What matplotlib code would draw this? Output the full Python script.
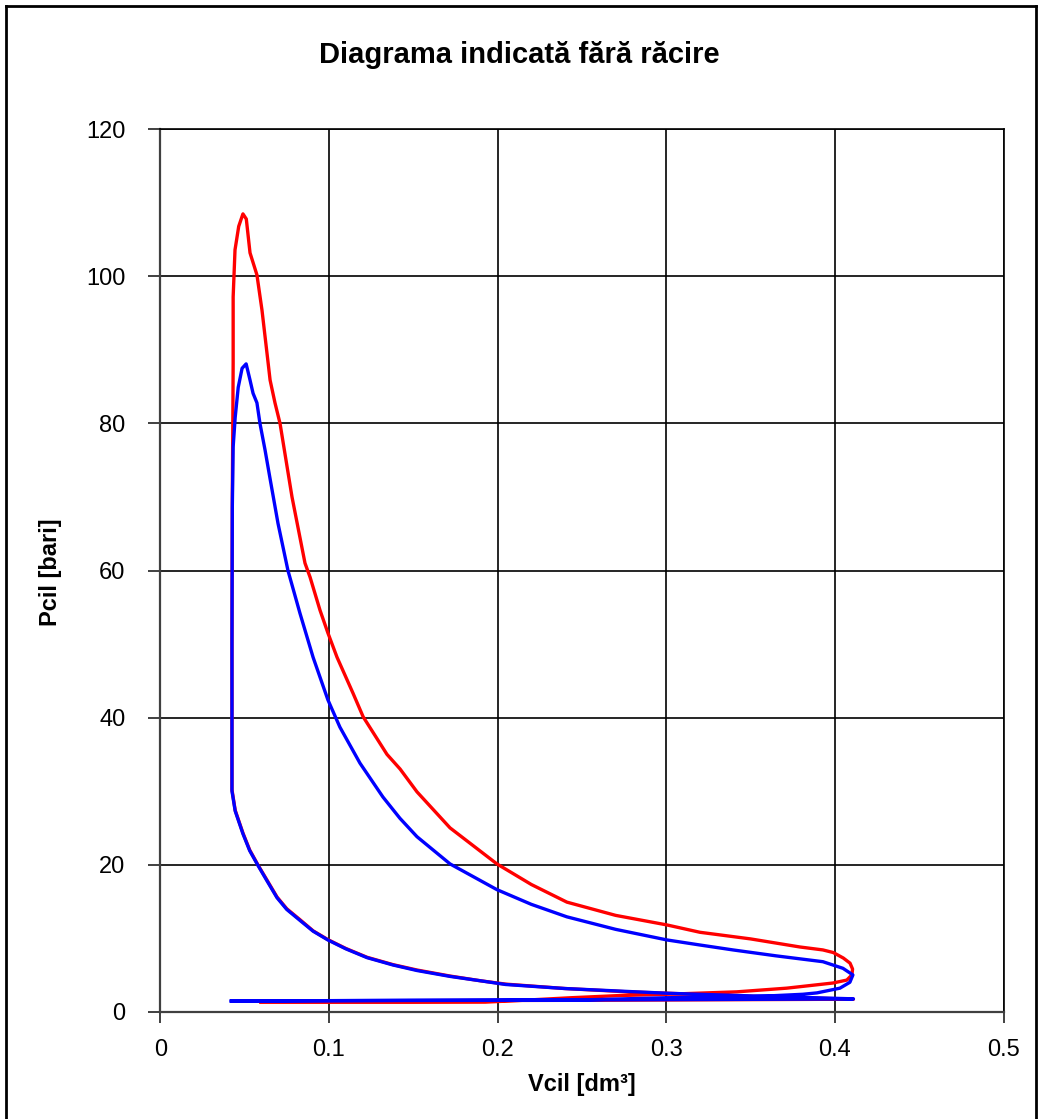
import matplotlib
matplotlib.use('Agg')
import matplotlib.pyplot as plt
from matplotlib.lines import Line2D

plt.rcParams['font.family'] = ['Liberation Sans', 'DejaVu Sans']

# Chart texts
title = 'Diagrama indicată fără răcire'
x_label = 'Vcil [dm³]'
y_label = 'Pcil [bari]'

x_ticks = [0, 0.1, 0.2, 0.3, 0.4, 0.5]
x_tick_labels = ['0', '0.1', '0.2', '0.3', '0.4', '0.5']
y_ticks = [0, 20, 40, 60, 80, 100, 120]
y_tick_labels = ['0', '20', '40', '60', '80', '100', '120']

# Red cycle: intake -> compression -> combustion -> expansion -> blowdown -> exhaust
red_vcil = [0.060, 0.150, 0.250, 0.411,
            0.380, 0.350, 0.3017, 0.2775, 0.2400, 0.2048, 0.1900, 0.1718,
            0.1522, 0.1380, 0.1226, 0.1100, 0.0994, 0.0906, 0.0829, 0.0750,
            0.0692, 0.0630, 0.0579, 0.0530, 0.0490, 0.0444, 0.0425, 0.0425,
            0.0427, 0.0430, 0.0432, 0.0432, 0.0443, 0.0465, 0.0490, 0.0510,
            0.0532, 0.0573, 0.0603, 0.0639, 0.0651, 0.0680, 0.0710, 0.0781,
            0.0858, 0.0888, 0.0947, 0.0994, 0.1048, 0.1143, 0.1203, 0.1344,
            0.1422, 0.1522, 0.1718, 0.1996, 0.2200, 0.2411, 0.2700, 0.3004,
            0.3200, 0.3500, 0.3793, 0.3929, 0.3990, 0.4050, 0.4090, 0.4105,
            0.4101, 0.4071, 0.3988, 0.3714, 0.3418, 0.3003, 0.2726, 0.2436,
            0.2150, 0.1927, 0.1500, 0.1000, 0.0596]
red_pcil = [1.45, 1.5, 1.55, 1.7,
            1.9, 2.1, 2.5, 2.7, 3.15, 3.75, 4.2, 4.85,
            5.67, 6.4, 7.4, 8.6, 9.8, 11.0, 12.5, 14.0,
            15.6, 18.0, 19.96, 22.0, 24.3, 27.4, 30.2, 50.0,
            70.0, 80.0, 88.2, 97.2, 103.6, 106.8, 108.5, 107.8,
            103.2, 100.2, 95.4, 88.3, 85.9, 82.8, 80.0, 70.0,
            61.0, 59.1, 54.6, 51.5, 48.2, 43.3, 40.1, 35.0,
            33.0, 29.9, 25.0, 20.1, 17.3, 14.9, 13.1, 11.8,
            10.8, 9.9, 8.8, 8.4, 8.05, 7.3, 6.6, 5.8,
            5.0, 4.3, 3.9, 3.2, 2.7, 2.37, 2.2, 1.9,
            1.55, 1.3, 1.28, 1.28, 1.28]

# Blue cycle
blue_vcil = [0.0421, 0.150, 0.250, 0.411,
             0.411, 0.380, 0.350, 0.3017, 0.2775, 0.2400, 0.2048, 0.1900,
             0.1718, 0.1522, 0.1380, 0.1226, 0.1100, 0.0994, 0.0906, 0.0829,
             0.0750, 0.0692, 0.0630, 0.0579, 0.0530, 0.0490, 0.0444, 0.0425,
             0.0425, 0.0427, 0.0432, 0.0444, 0.0462, 0.0485, 0.0509, 0.0532,
             0.0550, 0.0573, 0.0591, 0.0621, 0.0650, 0.0698, 0.0757, 0.0828,
             0.0906, 0.0994, 0.1065, 0.1184, 0.1320, 0.1421, 0.1522, 0.1718,
             0.1996, 0.2200, 0.2411, 0.2700, 0.3004, 0.3200, 0.3396, 0.3650,
             0.3929, 0.4048, 0.4107, 0.4089, 0.4030, 0.3894, 0.3810, 0.3513,
             0.3003, 0.2500, 0.2000, 0.1000, 0.0421]
blue_pcil = [1.45, 1.55, 1.6, 1.73,
             1.75, 1.95, 2.15, 2.5, 2.75, 3.15, 3.7, 4.2,
             4.8, 5.6, 6.35, 7.35, 8.55, 9.75, 10.95, 12.4,
             13.9, 15.5, 17.9, 19.9, 21.9, 24.2, 27.3, 30.0,
             50.0, 68.6, 76.8, 80.8, 84.9, 87.5, 88.1, 85.9,
             84.1, 82.8, 80.0, 76.4, 72.6, 66.4, 60.0, 54.2,
             48.2, 42.4, 38.7, 33.8, 29.2, 26.3, 23.8, 20.1,
             16.6, 14.6, 12.9, 11.2, 9.76, 9.07, 8.4, 7.6,
             6.8, 5.9, 5.0, 4.0, 3.2, 2.56, 2.37, 2.04,
             1.9, 1.6, 1.55, 1.5, 1.45]

W, H = 1038, 1119
fig = plt.figure(figsize=(W / 100, H / 100), dpi=100)
fig.patch.set_facecolor('white')

# Chart-area border (left, top, right)
bx0, by0, bx1 = 6 / W, 1 - 6 / H, 1036 / W
fig.add_artist(Line2D([bx0, bx0], [by0, -0.01], transform=fig.transFigure,
                      color='black', linewidth=2))
fig.add_artist(Line2D([bx0, bx1], [by0, by0], transform=fig.transFigure,
                      color='black', linewidth=2))
fig.add_artist(Line2D([bx1, bx1], [by0, -0.01], transform=fig.transFigure,
                      color='black', linewidth=2))

ax = fig.add_axes([160.3 / W, 1 - 1011.7 / H, (1003.5 - 160.3) / W, (1011.7 - 129.3) / H])

ax.plot(red_vcil, red_pcil, color='#FF0000', linewidth=2.4, zorder=3,
        solid_joinstyle='round')
ax.plot(blue_vcil, blue_pcil, color='#0000FF', linewidth=2.4, zorder=4,
        solid_joinstyle='round')

ax.set_xlim(0, 0.5)
ax.set_ylim(0, 120)
ax.set_xticks(x_ticks)
ax.set_xticklabels(x_tick_labels)
ax.set_yticks(y_ticks)
ax.set_yticklabels(y_tick_labels)

ax.grid(True, color='black', linewidth=1.2, zorder=1)
ax.set_axisbelow(True)

for side in ['top', 'right']:
    ax.spines[side].set_color('black')
    ax.spines[side].set_linewidth(1.2)
for side in ['left', 'bottom']:
    ax.spines[side].set_color('#404040')
    ax.spines[side].set_linewidth(1.6)

ax.tick_params(axis='x', direction='out', length=8, width=1.4, color='#404040',
               labelsize=17, pad=12)
ax.tick_params(axis='y', direction='out', length=9, width=1.4, color='#404040',
               labelsize=17, pad=16)

fig.text(519 / W, 1 - 55 / H, title, ha='center', va='center',
         fontsize=21, fontweight='bold')
fig.text(582 / W, 1 - 1085 / H, x_label, ha='center', va='center',
         fontsize=17, fontweight='bold')
fig.text(50 / W, 1 - 572 / H, y_label, ha='center', va='center',
         fontsize=17, fontweight='bold', rotation=90)

plt.savefig('out.png', dpi=100, facecolor='white')
